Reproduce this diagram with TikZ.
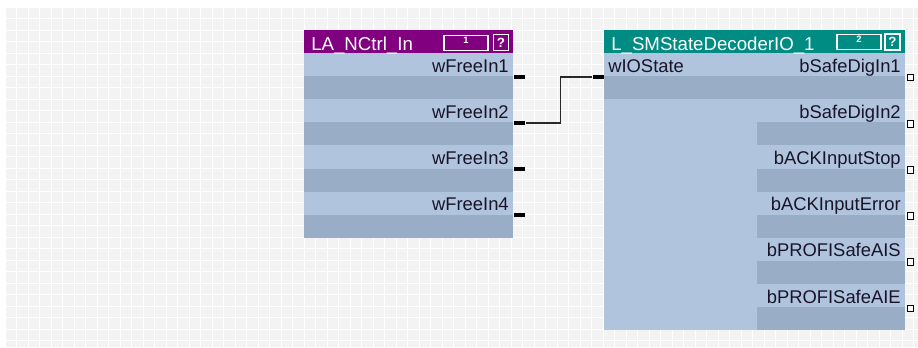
\documentclass[tikz,border=0pt]{standalone}
\usepackage{fontspec}
\setmainfont{Liberation Sans}
\usetikzlibrary{calc,positioning}

\definecolor{hdrpurple}{RGB}{128,0,128}
\definecolor{hdrteal}{RGB}{0,140,130}
\definecolor{rowlight}{RGB}{176,196,222}
\definecolor{rowdark}{RGB}{154,173,199}
\definecolor{gridcell}{RGB}{243,243,243}
\definecolor{labeltext}{RGB}{25,20,40}
\definecolor{wirecol}{RGB}{40,40,40}

\begin{document}
\begin{tikzpicture}[x=0.75pt,y=-0.75pt,
  lbl/.style={font=\fontsize{13.8}{16}\selectfont,text=labeltext,inner sep=0pt},
  title/.style={font=\fontsize{14}{16}\selectfont,text=white,inner sep=0pt,anchor=base west},
  idxbox/.style={draw=white,line width=1.1pt,minimum width=33pt,minimum height=11pt,inner sep=0pt},
  helpbox/.style={draw=white,line width=1.1pt,minimum width=11.5pt,minimum height=12pt,inner sep=0pt,
                  text=white,font=\fontsize{10}{10}\bfseries},
  idxnum/.style={text=white,font=\fontsize{7}{7}\bfseries,inner sep=0pt},
  outpin/.style={fill=black,draw=none,minimum width=8.25pt,minimum height=3pt,inner sep=0pt},
  boolpin/.style={draw=black,fill=white,line width=0.75pt,minimum size=5.2pt,inner sep=0pt},
  wire/.style={line width=1.4pt,draw=wirecol}]

\useasboundingbox (0,0) rectangle (918,347);

% background grid
\fill[gridcell] (6,8) rectangle (918,347);
\foreach \i in {1,...,79}
  \draw[white,line width=1pt] ({6+11.5*\i-0.75},8) -- ++(0,339);
\foreach \j in {1,...,29}
  \draw[white,line width=1pt] (6,{8+11.5*\j-0.75}) -- ++(912,0);

% block 1: LA_NCtrl_In
\fill[rowlight] (304,53) rectangle (513,238);
\foreach \k in {0,...,3}
  \fill[rowdark] (304,{76.1+46.2*\k}) rectangle (513,{99.2+46.2*\k});
\fill[hdrpurple] (304,30) rectangle (513,53);
\node[title] (ttl1) at (311,50) {LA\_NCtrl\_In};
\node[idxbox,fill=hdrpurple] (idx1) at (466,43) {};
\node[idxnum] (num1) at (466,40) {1};
\node[helpbox,fill=hdrpurple] (hlp1) at (501,42.5) {?};

\foreach \k/\name in {0/wFreeIn1,1/wFreeIn2,2/wFreeIn3,3/wFreeIn4}{
  \node[lbl,anchor=base east] (fin\k) at (509,{72+46.2*\k}) {\name};
  \node[outpin,anchor=west] (fpin\k) at (514,{76.8+46.2*\k}) {};
}

% block 2: L_SMStateDecoderIO_1
\fill[rowlight] (604,53) rectangle (905,330);
\fill[rowdark] (604,76.1) rectangle (905,99.2);
\foreach \k in {1,...,5}
  \fill[rowdark] (757,{76.1+46.2*\k}) rectangle (905,{99.2+46.2*\k});
\fill[hdrteal] (604,30) rectangle (905,53);
\node[title] (ttl2) at (611,50) {L\_SMStateDecoderIO\_1};
\node[idxbox,fill=hdrteal] (idx2) at (859,42) {};
\node[idxnum] (num2) at (859,39) {2};
\node[helpbox,fill=hdrteal] (hlp2) at (892.5,42) {?};

\node[lbl,anchor=base west] (wio) at (608,72) {wIOState};
\node[outpin,anchor=east] (wpin) at (604,76.8) {};

\foreach \k/\name in {0/bSafeDigIn1,1/bSafeDigIn2,2/bACKInputStop,
                      3/bACKInputError,4/bPROFISafeAIS,5/bPROFISafeAIE}{
  \node[lbl,anchor=base east] (bout\k) at (901,{72+46.2*\k}) {\name};
  \node[boolpin,anchor=west] (bpin\k) at (906.5,{77.5+46.2*\k}) {};
}

% connection
\draw[wire] (fpin1.east) -- ++(35,0) |- (wpin.west);
\end{tikzpicture}
\end{document}
